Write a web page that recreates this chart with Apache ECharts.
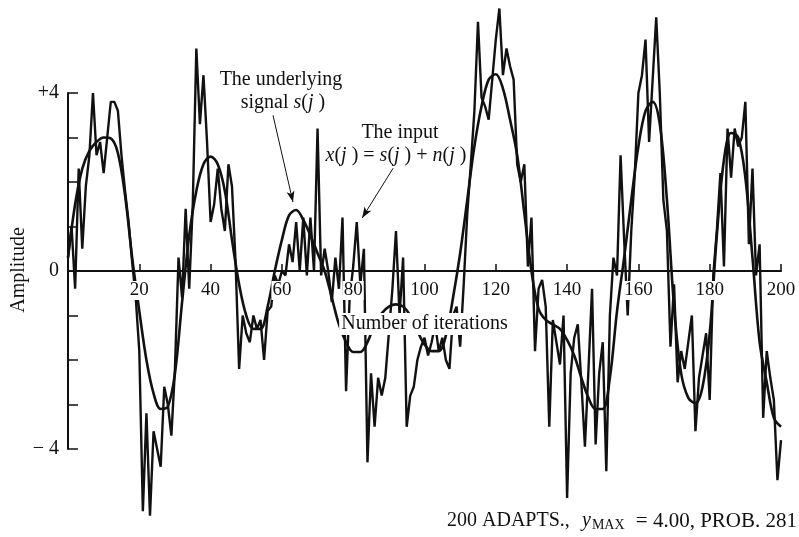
<!DOCTYPE html>
<html>
<head>
<meta charset="utf-8">
<script src="https://cdn.jsdelivr.net/npm/echarts@6/dist/echarts.min.js"></script>
<style>
  html, body { margin: 0; padding: 0; background: #fff; }
  #chart { width: 799px; height: 537px; }
</style>
</head>
<body>
<div id="chart"></div>
<script>
// underlying signal s(j), read every 2 iterations (j = 0, 2, ... 200)
const signalStep = 2;
const signal = [
  0.3, 1.5, 2.3, 2.7, 2.9, 3.0, 2.98, 2.65, 1.7, 0.3,
  -0.9, -2.0, -2.75, -3.1, -3.05, -2.3, -0.7, 0.8, 1.8, 2.4,
  2.57, 2.4, 1.8, 0.7, -0.3, -1.0, -1.3, -1.3, -0.8, 0.0,
  0.7, 1.25, 1.37, 1.15, 0.8, 0.4, 0.0, -0.6, -1.2, -1.6,
  -1.82, -1.82, -1.6, -1.2, -0.95, -0.8, -0.75, -0.8, -1.0, -1.35,
  -1.65, -1.8, -1.8, -1.45, -0.6, 0.4, 1.6, 2.8, 3.7, 4.3,
  4.42, 4.1, 3.4, 2.6, 1.3, 0.0, -0.85, -1.1, -1.2, -1.3,
  -1.55, -1.9, -2.4, -2.85, -3.1, -3.1, -2.4, -0.9, 0.3, 1.6,
  2.8, 3.6, 3.8, 3.3, 1.6, -0.8, -2.3, -2.85, -2.97, -2.6,
  -1.4, 0.8, 2.5, 3.1, 3.0, 2.1, 0.3, -1.6, -2.5, -3.3,
  -3.5
];

// noisy input x(j) = s(j) + n(j), one value per iteration (j = 0 ... 200)
const input = [
  0.3, 1.0, -0.4, 2.3, 0.5, 1.9, 2.6, 4.0, 2.6, 2.9,
  2.2, 3.0, 3.8, 3.8, 3.6, 2.6, 1.8, 1.1, 0.2, -0.6,
  -1.8, -5.4, -3.2, -5.5, -3.6, -4.0, -4.4, -2.6, -3.0, -3.7,
  -2.2, 0.3, -0.6, 1.4, -0.4, 1.5, 5.0, 3.3, 4.4, 2.9,
  1.1, 1.5, 2.3, 1.4, 0.9, 2.4, 1.9, 0.2, -2.2, -1.0,
  -1.4, -1.6, -1.0, -1.3, -1.1, -2.0, -0.9, -0.8, -0.1, -0.3,
  0.0, -0.1, 0.6, 0.2, 1.1, 0.0, 1.2, -0.1, 1.2, 0.0,
  3.2, -0.1, 0.5, 0.0, -0.7, 0.3, -0.4, 1.2, -2.7, -0.6,
  0.1, 1.1, -0.3, 0.5, -4.3, -2.3, -3.5, -2.4, -2.8, -2.4,
  -1.4, -0.4, 0.9, -1.0, 0.3, -3.5, -2.8, -2.6, -2.0, -1.7,
  -1.5, -1.9, -1.6, -1.2, -1.8, -1.5, -2.0, -2.2, -1.0, -0.8,
  -1.7, -0.3, 1.3, 2.4, 3.6, 5.6, 3.9, 3.7, 3.4, 4.3,
  5.2, 5.9, 4.4, 5.0, 4.6, 4.3, 2.4, 2.0, 2.4, 0.1,
  1.2, -1.8, -0.4, -0.2, -0.8, -3.5, -1.1, -1.6, -2.1, -1.0,
  -5.1, -2.3, -1.5, -1.2, -2.5, -3.95, -2.2, -0.4, -3.9, -2.3,
  -1.6, -4.5, -1.0, 0.3, -0.1, 2.6, 0.7, -1.0, 0.9, 2.2,
  4.0, 4.4, 5.2, 2.9, 4.3, 5.7, 4.0, 1.6, 0.9, -1.7,
  -0.3, -2.5, -1.8, -2.2, -1.6, -1.0, -3.6, -2.4, -1.9, -1.4,
  -2.9, -0.1, 0.9, 2.2, 0.1, 3.2, 2.1, 3.2, 2.8, 3.0,
  3.8, 0.6, 2.3, -0.1, 0.6, -3.3, -1.8, -2.4, -2.9, -4.7,
  -3.8
];

const yTickLabels = { '4': '+4', '0': '0', '-4': '\u2212 4' };

// annotation arrows, in data coordinates [j, amplitude]
const signalArrow = [[57.5, 3.5], [63.1, 1.55]];
const inputArrow = [[91.2, 2.31], [82.5, 1.19]];

const serif = '"Liberation Serif", "DejaVu Serif", serif';
const ink = '#111';

// grid: y from -4 to +4, zero line sits in the middle
const gridTop = 93;
const gridBottom = 88;
const halfHeight = (537 - gridTop - gridBottom) / 2;

var myChart = echarts.init(document.getElementById('chart'));

var option = {
  animation: false,
  backgroundColor: '#fff',
  grid: {
    left: 68,
    right: 18,
    top: gridTop,
    bottom: gridBottom,
    containLabel: false,
    outerBoundsMode: 'none',
  },
  xAxis: {
    type: 'value',
    min: 0,
    max: 200,
    interval: 20,
    z: 10,
    // pull the whole axis (line, ticks, labels, name) up to the zero line
    offset: -halfHeight,
    axisLine: { onZero: false, lineStyle: { color: ink, width: 2 } },
    axisTick: { inside: true, length: 7, lineStyle: { color: ink, width: 1.5 } },
    axisLabel: {
      margin: 10,
      color: ink,
      fontFamily: serif,
      fontSize: 19,
      backgroundColor: '#fff',
      padding: [0, 1],
      formatter: (v) => (v === 0 ? '' : String(v)),
    },
    splitLine: { show: false },
    name: 'Number of iterations',
    nameLocation: 'middle',
    nameGap: 42,
    nameTextStyle: {
      color: ink,
      fontFamily: serif,
      fontSize: 20,
      backgroundColor: '#fff',
      padding: [1, 2],
    },
  },
  yAxis: {
    type: 'value',
    min: -4,
    max: 4,
    interval: 1,
    axisLine: { show: true, onZero: false, lineStyle: { color: ink, width: 2 } },
    axisTick: { show: true, inside: true, length: 10, lineStyle: { color: ink, width: 1.5 } },
    axisLabel: {
      margin: 9,
      color: ink,
      fontFamily: serif,
      fontSize: 20,
      formatter: (v) => yTickLabels[String(v)] || '',
    },
    splitLine: { show: false },
  },
  series: [
    {
      name: 'input',
      type: 'line',
      data: input.map((v, j) => [j, v]),
      showSymbol: false,
      clip: false,
      lineStyle: { color: ink, width: 2.4 },
      z: 2,
    },
    {
      name: 'signal',
      type: 'line',
      data: signal.map((v, i) => [i * signalStep, v]),
      smooth: 0.35,
      showSymbol: false,
      clip: false,
      lineStyle: { color: ink, width: 2.6 },
      z: 3,
      markLine: {
        silent: true,
        symbol: ['none', 'arrow'],
        symbolSize: [6, 11],
        lineStyle: { color: ink, width: 1, type: 'solid' },
        label: { show: false },
        data: [
          [{ coord: signalArrow[0] }, { coord: signalArrow[1] }],
          [{ coord: inputArrow[0] }, { coord: inputArrow[1] }],
        ],
      },
    },
  ],
  graphic: [
    // y axis title, rotated
    {
      type: 'text', x: 19, y: 270, z: 20, rotation: Math.PI / 2,
      style: {
        text: 'Amplitude', fontFamily: serif, fontSize: 20, fill: ink,
        align: 'center', verticalAlign: 'middle', textAlign: 'center', textVerticalAlign: 'middle',
      },
    },
    {
      type: 'text', x: 281, y: 80, z: 20,
      style: {
        text: 'The underlying', fontFamily: serif, fontSize: 20, fill: ink,
        align: 'center', verticalAlign: 'middle', textAlign: 'center', textVerticalAlign: 'middle',
      },
    },
    {
      type: 'text', x: 283, y: 103, z: 20,
      style: {
        text: 'signal {i|s}({i|j} )', fontFamily: serif, fontSize: 20, fill: ink,
        align: 'center', verticalAlign: 'middle', textAlign: 'center', textVerticalAlign: 'middle',
        rich: { i: { fontFamily: serif, fontSize: 20, fontStyle: 'italic', fill: ink } },
      },
    },
    {
      type: 'text', x: 400, y: 133, z: 20,
      style: {
        text: 'The input', fontFamily: serif, fontSize: 20, fill: ink,
        align: 'center', verticalAlign: 'middle', textAlign: 'center', textVerticalAlign: 'middle',
      },
    },
    {
      type: 'text', x: 396, y: 156, z: 20,
      style: {
        text: '{i|x}({i|j} ) = {i|s}({i|j} ) + {i|n}({i|j} )', fontFamily: serif, fontSize: 20, fill: ink,
        align: 'center', verticalAlign: 'middle', textAlign: 'center', textVerticalAlign: 'middle',
        rich: { i: { fontFamily: serif, fontSize: 20, fontStyle: 'italic', fill: ink } },
      },
    },
    {
      type: 'text', x: 447, y: 521, z: 20,
      style: {
        text: '200 ADAPTS.,', fontFamily: serif, fontSize: 20, fill: ink,
        align: 'left', verticalAlign: 'middle', textAlign: 'left', textVerticalAlign: 'middle',
      },
    },
    {
      type: 'text', x: 582, y: 521, z: 20,
      style: {
        text: '{i|y}{s|MAX}', fontFamily: serif, fontSize: 20, fill: ink,
        align: 'left', verticalAlign: 'middle', textAlign: 'left', textVerticalAlign: 'middle',
        rich: {
          i: { fontFamily: serif, fontSize: 20, fontStyle: 'italic', fill: ink },
          s: { fontFamily: serif, fontSize: 14, fill: ink, padding: [9, 0, 0, 1] },
        },
      },
    },
    {
      type: 'text', x: 797, y: 521, z: 20,
      style: {
        text: '= 4.00, PROB. 281', fontFamily: serif, fontSize: 21, fill: ink,
        align: 'right', verticalAlign: 'middle', textAlign: 'right', textVerticalAlign: 'middle',
      },
    },
  ],
};

myChart.setOption(option);
</script>
</body>
</html>
